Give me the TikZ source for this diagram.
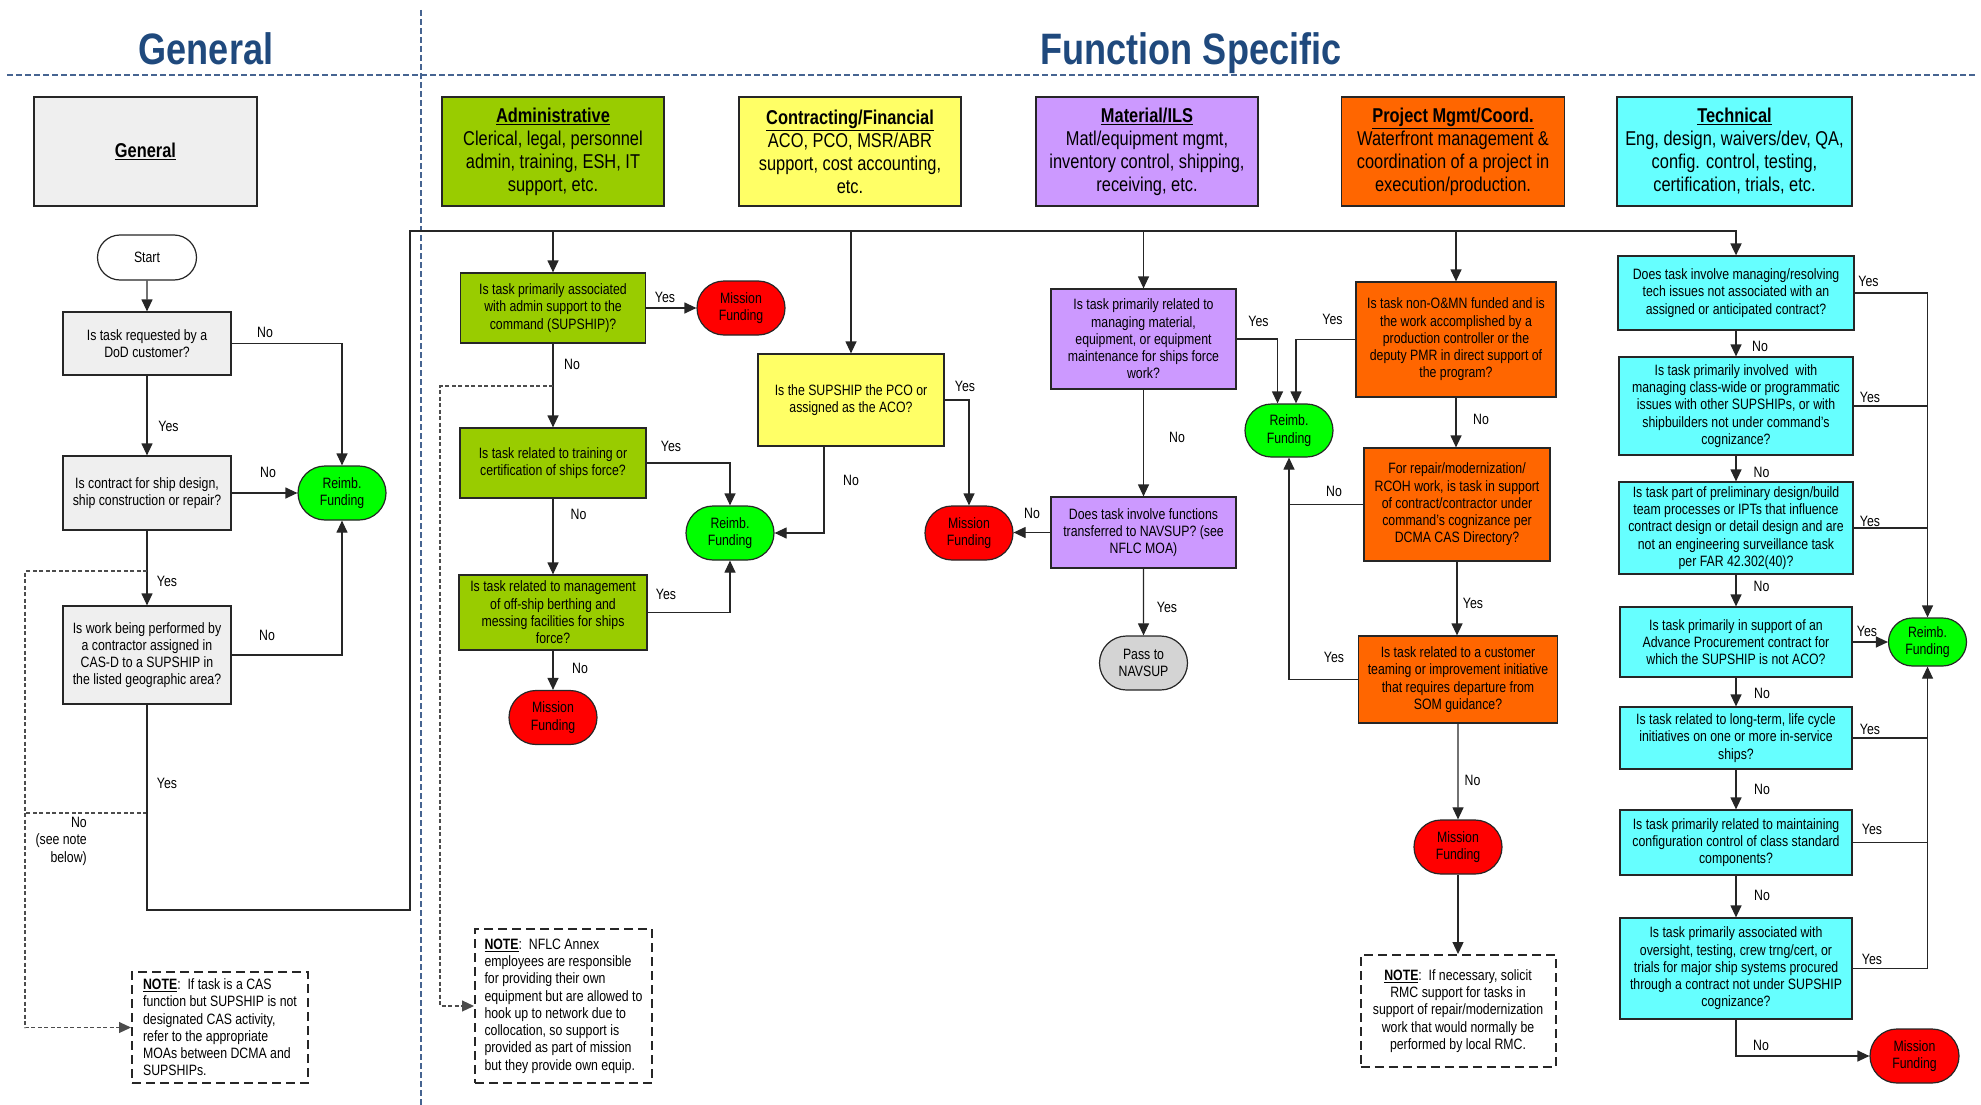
\documentclass[tikz,border=0pt]{standalone}
\usepackage{fontspec}
\setmainfont{Liberation Sans}[FakeStretch=0.82]
\usetikzlibrary{arrows.meta,shapes.misc}

\definecolor{titleblue}{RGB}{31,73,125}
\definecolor{sepblue}{RGB}{70,100,145}
\definecolor{genfill}{RGB}{239,239,239}
\definecolor{admfill}{RGB}{153,204,0}
\definecolor{confill}{RGB}{255,255,102}
\definecolor{matfill}{RGB}{204,153,255}
\definecolor{prjfill}{RGB}{255,102,0}
\definecolor{tecfill}{RGB}{102,255,255}
\definecolor{reimbfill}{RGB}{0,255,0}
\definecolor{missfill}{RGB}{255,0,0}
\definecolor{passfill}{RGB}{212,212,212}

\newcommand\smallfont{\fontsize{15}{17.25}\selectfont}
\newcommand\headfont{\fontsize{20}{23}\selectfont}
\newcommand\notehead{\underline{\textbf{NOTE}}:\ \ }

\tikzset{
	qnode/.style={draw=black!85, line width=1.2pt, inner sep=2pt, align=center, font=\smallfont},
	decision/.style 2 args={qnode, minimum width=#1, minimum height=#2},
	headbox/.style={qnode, font=\headfont, minimum height=109pt},
	terminal/.style={qnode, rounded rectangle, minimum width=92pt, minimum height=54pt},
	reimb/.style={terminal, fill=reimbfill},
	mission/.style={terminal, fill=missfill},
	notebox/.style={draw=black!85, line width=2pt, dash pattern=on 9pt off 5pt, inner sep=3pt, font=\smallfont},
	lbl/.style={font=\smallfont, inner sep=0pt},
	link/.style={line width=1.2pt, black!85},
	arr/.style={link, -{Triangle[length=12pt,width=11pt]}},
	dasharr/.style={line width=1.1pt, black!70, dash pattern=on 4pt off 2.5pt, -{Triangle[length=12pt,width=11pt]}},
	sep/.style={sepblue, line width=2pt, dash pattern=on 6pt off 3pt}
}

\begin{document}
\begin{tikzpicture}[x=1pt, y=-1pt]
	\useasboundingbox (0,0) rectangle (1981,1105);
	\draw[sep] (7,75) -- (1975,75);
	\draw[sep] (421,10) -- (421,1105);
	\node[font={\fontsize{44}{50}\selectfont\bfseries}, text=titleblue] (gentitle) at (206,49) {General};
	\node[font={\fontsize{44}{50}\selectfont\bfseries}, text=titleblue] (fntitle) at (1191,53) {Function Specific};

	\node[headbox, fill=genfill, minimum width=223pt] (genhead) at (145.5,151.5) {\underline{\textbf{General}}};
	\node[headbox, fill=admfill, minimum width=222pt] (admhead) at (553,151.5) {\underline{\textbf{Administrative}}\\Clerical, legal, personnel\\admin, training, ESH, IT\\support, etc.};
	\node[headbox, fill=confill, minimum width=222pt] (conhead) at (850,151.5) {\underline{\textbf{Contracting/Financial}}\\ACO, PCO, MSR/ABR\\support, cost accounting,\\etc.};
	\node[headbox, fill=matfill, minimum width=222pt] (mathead) at (1147,151.5) {\underline{\textbf{Material/ILS}}\\Matl/equipment mgmt,\\inventory control, shipping,\\receiving, etc.};
	\node[headbox, fill=prjfill, minimum width=223pt] (prjhead) at (1453,151.5) {\underline{\textbf{Project Mgmt/Coord.}}\\Waterfront management \&\\coordination of a project in\\execution/production.};
	\node[headbox, fill=tecfill, minimum width=235pt] (techead) at (1734.5,151.5) {\underline{\textbf{Technical}}\\Eng, design, waivers/dev, QA,\\config. control, testing,\\certification, trials, etc.};

	\node[terminal, fill=white, minimum width=103pt, minimum height=45pt] (start) at (147,257.5) {Start};
	\node[decision={168pt}{63pt}, fill=genfill] (dodq) at (147,343.5) {Is task requested by a\\DoD customer?};
	\node[decision={168pt}{74pt}, fill=genfill] (shipq) at (147,493) {Is contract for ship design,\\ship construction or repair?};
	\node[decision={168pt}{98pt}, fill=genfill] (casq) at (147,655) {Is work being performed by\\a contractor assigned in\\CAS-D to a SUPSHIP in\\the listed geographic area?};
	\node[reimb] (reimbG) at (342,493) {Reimb.\\Funding};
	\node[notebox, align=left, minimum width=176pt, minimum height=111pt] (note1) at (220,1027.5) {\notehead If task is a CAS\\function but SUPSHIP is not\\designated CAS activity,\\refer to the appropriate\\MOAs between DCMA and\\SUPSHIPs.};
	\node[lbl, align=right, anchor=north east] (seenote) at (87,817) {No\\(see note\\below)};

	\node[decision={185pt}{70pt}, fill=admfill] (admq1) at (553,308) {Is task primarily associated\\with admin support to the\\command (SUPSHIP)?};
	\node[decision={186pt}{70pt}, fill=admfill] (admq2) at (553,463) {Is task related to training or\\certification of ships force?};
	\node[decision={188pt}{75pt}, fill=admfill] (admq3) at (553,612.5) {Is task related to management\\of off-ship berthing and\\messing facilities for ships\\force?};
	\node[mission] (missA) at (741,308) {Mission\\Funding};
	\node[mission] (missB) at (553,717.5) {Mission\\Funding};
	\node[reimb] (reimbA) at (730,533) {Reimb.\\Funding};
	\node[notebox, align=left, minimum width=177pt, minimum height=154pt] (note2) at (563.5,1006) {\notehead NFLC Annex\\employees are responsible\\for providing their own\\equipment but are allowed to\\hook up to network due to\\collocation, so support is\\provided as part of mission\\but they provide own equip.};

	\node[decision={186pt}{92pt}, fill=confill] (contq) at (851,400) {Is the SUPSHIP the PCO or\\assigned as the ACO?};
	\node[mission] (missC) at (969,533) {Mission\\Funding};

	\node[decision={185pt}{100pt}, fill=matfill] (matq1) at (1143.5,339) {Is task primarily related to\\managing material,\\equipment, or equipment\\maintenance for ships force\\work?};
	\node[decision={185pt}{71pt}, fill=matfill] (matq2) at (1143.5,532.5) {Does task involve functions\\transferred to NAVSUP? (see\\NFLC MOA)};
	\node[terminal, fill=passfill] (pass) at (1143.5,663) {Pass to\\NAVSUP};
	\node[reimb, minimum height=53pt] (reimbM) at (1289,430.5) {Reimb.\\Funding};

	\node[decision={200pt}{115pt}, fill=prjfill] (projq1) at (1456,339.5) {Is task non-O\&MN funded and is\\the work accomplished by a\\production controller or the\\deputy PMR in direct support of\\the program?};
	\node[decision={186pt}{113pt}, fill=prjfill] (projq2) at (1457,504.5) {For repair/modernization/\\RCOH work, is task in support\\of contract/contractor under\\command’s cognizance per\\DCMA CAS Directory?};
	\node[decision={199pt}{87pt}, fill=prjfill] (projq3) at (1458,679.5) {Is task related to a customer\\teaming or improvement initiative\\that requires departure from\\SOM guidance?};
	\node[mission] (missD) at (1458,847) {Mission\\Funding};
	\node[notebox, align=center, minimum width=195pt, minimum height=112pt] (note3) at (1458,1011) {\notehead If necessary, solicit\\RMC support for tasks in\\support of repair/modernization\\work that would normally be\\performed by local RMC.};

	\node[decision={236pt}{74pt}, fill=tecfill] (tecq1) at (1736,293) {Does task involve managing/resolving\\tech issues not associated with an\\assigned or anticipated contract?};
	\node[decision={234pt}{98pt}, fill=tecfill] (tecq2) at (1736,406) {Is task primarily involved\ \ with\\managing class-wide or programmatic\\issues with other SUPSHIPs, or with\\shipbuilders not under command’s\\cognizance?};
	\node[decision={234pt}{92pt}, fill=tecfill] (tecq3) at (1736,528) {Is task part of preliminary design/build\\team processes or IPTs that influence\\contract design or detail design and are\\not an engineering surveillance task\\per FAR 42.302(40)?};
	\node[decision={232pt}{70pt}, fill=tecfill] (tecq4) at (1736,642) {Is task primarily in support of an\\Advance Procurement contract for\\which the SUPSHIP is not ACO?};
	\node[decision={232pt}{62pt}, fill=tecfill] (tecq5) at (1736,738) {Is task related to long-term, life cycle\\initiatives on one or more in-service\\ships?};
	\node[decision={232pt}{65pt}, fill=tecfill] (tecq6) at (1736,842.5) {Is task primarily related to maintaining\\configuration control of class standard\\components?};
	\node[decision={232pt}{101pt}, fill=tecfill] (tecq7) at (1736,968.5) {Is task primarily associated with\\oversight, testing, crew trng/cert, or\\trials for major ship systems procured\\through a contract not under SUPSHIP\\cognizance?};
	\node[reimb, minimum width=82pt, minimum height=48pt] (reimbT) at (1927.5,642) {Reimb.\\Funding};
	\node[mission, minimum width=93pt] (missE) at (1914.5,1056) {Mission\\Funding};

	\coordinate (loopB) at (410,910);
	\coordinate (loopT) at (410,231);
	\coordinate (gendashA) at (147,571);
	\coordinate (gendashB) at (147,813);
	\coordinate (admdash) at (553,386);

	\draw[arr] (start) -- (dodq);
	\draw[arr] (dodq) -- (shipq);
	\draw[arr] (shipq) -- (casq);
	\draw[arr] (dodq.east) -| (reimbG.north);
	\draw[arr] (shipq.east) -- (reimbG.west);
	\draw[arr] (casq.east) -| (reimbG.south);
	\draw[dasharr] (gendashA) -- (25,571) |- (note1.west);
	\draw[dasharr, -] (gendashB) -- (25,813);
	\draw[arr, line width=1.8pt] (casq.south) |- (loopB) -- (loopT) -| (tecq1.north);
	\foreach \n in {admq1, contq, matq1, projq1}
		\draw[arr] (\n.north |- loopT) -- (\n.north);

	\draw[arr] (admq1.east) -- (missA.west);
	\draw[arr] (admq1) -- (admq2);
	\draw[arr] (admq2) -- (admq3);
	\draw[arr] (admq3) -- (missB);
	\draw[arr] (admq2.east) -| (reimbA.north);
	\draw[arr] (admq3.east) -| (reimbA.south);
	\draw[dasharr] (admdash) -- (440,386) |- (note2.west);

	\draw[arr] (contq.east) -| (missC.north);
	\draw[arr] ([xshift=-27pt]contq.south) |- (reimbA.east);

	\draw[arr] (matq1) -- (matq2);
	\draw[arr] (matq2.west) -- (matq2.west -| missC.east);
	\draw[arr] (matq2) -- (pass);
	\draw[arr] (matq1.east) -| ([xshift=-11.5pt]reimbM.north);
	\draw[arr] (projq1.west) -| ([xshift=7pt]reimbM.north);

	\draw[arr] (projq1.south) -- (projq1.south |- projq2.north);
	\draw[arr] (projq2.south) -- (projq2.south |- projq3.north);
	\draw[arr] (projq2.west) -| (reimbM.south);
	\draw[link] (projq3.west) -| (reimbM.south |- projq2.west);
	\draw[arr] (projq3) -- (missD);
	\draw[arr] (missD) -- (note3);

	\foreach \a/\b in {tecq1/tecq2, tecq2/tecq3, tecq3/tecq4, tecq4/tecq5, tecq5/tecq6, tecq6/tecq7}
		\draw[arr] (\a) -- (\b);
	\draw[arr] (tecq1.east) -| (reimbT.north);
	\foreach \n in {tecq2, tecq3, tecq5, tecq6}
		\draw[link] (\n.east) -- (\n.east -| reimbT.north);
	\draw[arr] (tecq4.east) -- (reimbT.west);
	\draw[arr] (tecq7.east) -| (reimbT.south);
	\draw[arr] (tecq7.south) |- (missE.west);

	\foreach \x/\y/\t [count=\i] in {265/332/No, 168.5/426/Yes, 268/472/No, 167/581/Yes, 267/635/No, 167/783/Yes,
		665/297/Yes, 572/364/No, 671/446/Yes, 578.5/514/No, 666/594/Yes, 580/668/No, 965/386/Yes, 851/480/No,
		1258.5/321/Yes, 1332.5/319/Yes, 1177/437/No, 1032/513/No, 1167/607/Yes,
		1481/419/No, 1334/491/No, 1473/603/Yes, 1334/657/Yes, 1472.5/780/No,
		1868.5/281/Yes, 1760/346/No, 1870/397/Yes, 1761.5/472/No, 1870/521/Yes, 1761.5/586/No, 1867/631/Yes,
		1762/693/No, 1870/729/Yes, 1762/789/No, 1872/829/Yes, 1762/895/No, 1872/959/Yes, 1761/1045/No}
		\node[lbl] (lbl\i) at (\x,\y) {\t};
\end{tikzpicture}
\end{document}
